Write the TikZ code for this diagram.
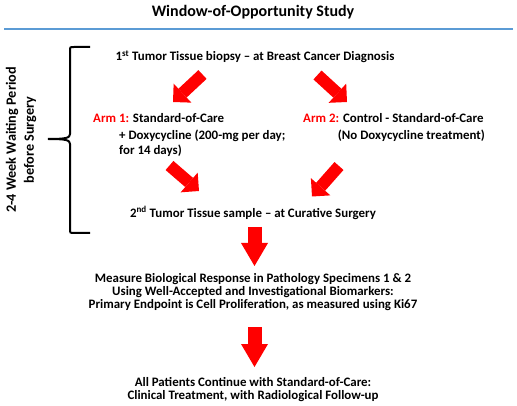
\documentclass[tikz,border=0pt]{standalone}
\usepackage{fontspec}
\setmainfont{Carlito}
\usetikzlibrary{arrows.meta}
\definecolor{ruleblue}{RGB}{91,155,213}
\definecolor{arrowred}{RGB}{255,0,0}
\begin{document}
\begin{tikzpicture}[x=1pt,y=-1pt,
 txt/.style={inner sep=0pt, font=\bfseries\fontsize{12.9}{13}\selectfont},
 titletxt/.style={inner sep=0pt, font=\bfseries\fontsize{16}{18}\selectfont},
 sidetxt/.style={inner sep=0pt, rotate=90, align=center, font=\bfseries\fontsize{14.2}{18}\selectfont},
 diagarrow/.style={draw=arrowred, line width=12pt, -{Triangle[width=26pt,length=13pt,line width=0pt]}},
 downarrow/.style={draw=arrowred, line width=14pt, -{Triangle[width=27pt,length=23pt,line width=0pt]}},
 bracestyle/.style={draw=black, line width=2pt},
]
\useasboundingbox (0,0) rectangle (517,406);
\node[titletxt] (title) at (253,12) {Window-of-Opportunity Study};
\coordinate (ruleL) at (4,29);
\coordinate (ruleR) at (513,29);
\draw[ruleblue, line width=2pt] (ruleL) -- (ruleR);

\node[txt] (bx1) at (255,57) {1\textsuperscript{st} Tumor Tissue biopsy – at Breast Cancer Diagnosis};
\node[txt, anchor=west] (a1l1) at (93,118) {\textcolor{arrowred}{Arm 1:} Standard-of-Care};
\node[txt, anchor=west] (a1l2) at (119,135.5) {+ Doxycycline (200-mg per day;};
\node[txt, anchor=west] (a1l3) at (119,151) {for 14 days)};
\node[txt, anchor=west] (a2l1) at (303,118) {\textcolor{arrowred}{Arm 2:} Control - Standard-of-Care};
\node[txt, anchor=east] (a2l2) at (485,136) {(No Doxycycline treatment)};
\node[txt] (bx2) at (253,213) {2\textsuperscript{nd} Tumor Tissue sample – at Curative Surgery};
\node[txt, align=center] (meas) at (253,292) {Measure Biological Response in Pathology Specimens 1 \& 2\\Using Well-Accepted and Investigational Biomarkers:\\Primary Endpoint is Cell Proliferation, as measured using Ki67};
\node[txt, align=center] (fin) at (253,389.5) {All Patients Continue with Standard-of-Care:\\Clinical Treatment, with Radiological Follow-up};
\node[sidetxt] (wait) at (21,140) {2-4 Week Waiting Period\\before Surgery};

\coordinate (d1s) at (202.5,74.5); \coordinate (d1e) at (173,102);
\coordinate (d2s) at (317.5,75);   \coordinate (d2e) at (347,102);
\coordinate (d3s) at (169.5,165.5); \coordinate (d3e) at (199,191);
\coordinate (d4s) at (339,166);    \coordinate (d4e) at (312,196.5);
\coordinate (v1s) at (254.5,227);  \coordinate (v1e) at (254.5,266);
\coordinate (v2s) at (254.5,327);  \coordinate (v2e) at (254.5,367);
\draw[diagarrow] (d1s) -- (d1e);
\draw[diagarrow] (d2s) -- (d2e);
\draw[diagarrow] (d3s) -- (d3e);
\draw[diagarrow] (d4s) -- (d4e);
\draw[downarrow] (v1s) -- (v1e);
\draw[downarrow] (v2s) -- (v2e);

\coordinate (brTop) at (90,47);
\coordinate (brTip) at (48,139);
\coordinate (brBot) at (90,233);
\draw[bracestyle] (brTop) -- (74,47) .. controls (70,47) .. (70,51) -- (70,134)
  .. controls (70,138) and (66,139) .. (brTip)
  .. controls (66,139) and (70,140) .. (70,144) -- (70,229)
  .. controls (70,233) .. (74,233) -- (brBot);
\end{tikzpicture}
\end{document}
